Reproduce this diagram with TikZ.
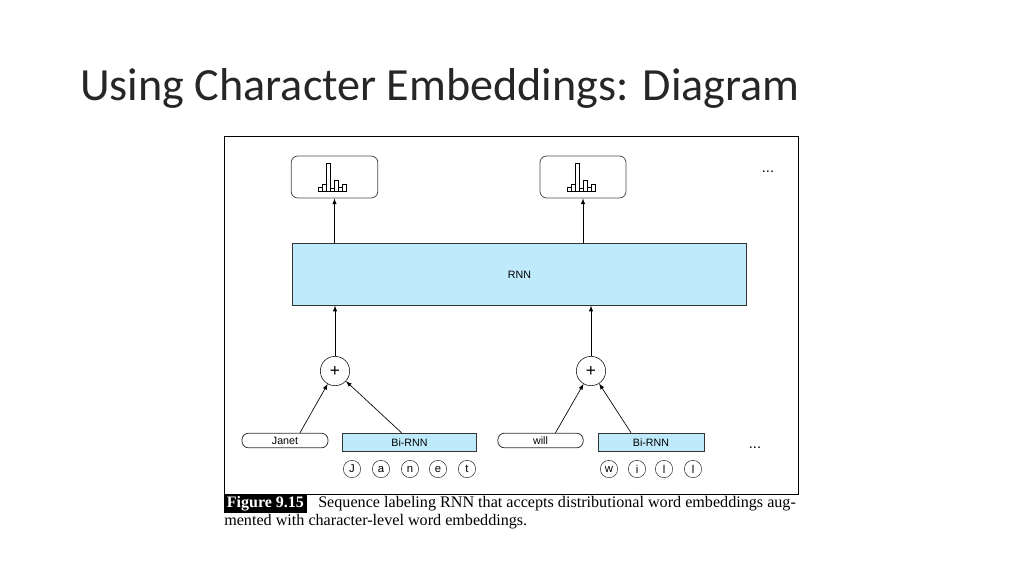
\documentclass[tikz,border=0pt]{standalone}
\usepackage{fontspec}
\setmainfont{Liberation Serif}
\newfontfamily\titlefont{Carlito}
\newfontfamily\helv{Liberation Sans}
\begin{document}
\begin{tikzpicture}[x=0.75pt,y=-0.75pt,
  outbox/.style={draw=black!70,rounded corners=5pt,line width=0.6pt},
  bluebox/.style={draw=black!80,fill=cyan!25!white,line width=0.6pt,font=\helv\fontsize{8}{9}\selectfont,inner sep=0},
  pill/.style={draw=black!80,rounded corners=5pt,line width=0.6pt,font=\helv\fontsize{8}{9}\selectfont,inner sep=0},
  chr/.style={draw=black!80,circle,minimum size=13pt,inner sep=0,font=\helv\fontsize{8.5}{9}\selectfont},
  plusc/.style={draw=black,circle,minimum size=22pt,inner sep=0,fill=white,font=\helv\fontsize{13}{13}\selectfont},
  dots/.style={font=\helv\fontsize{11}{11}\selectfont},
  arr/.style={-latex,line width=0.5pt}]
\useasboundingbox (0,0) rectangle (1024,576);
\node[anchor=base west,inner sep=0,font=\titlefont\fontsize{34.6}{40}\selectfont,text=black!85] (title) at (80,100) {Using Character Embeddings: Diagram};
\draw[line width=0.6pt] (224,136) rectangle (798,494);
% outputs
\node[outbox,minimum width=65pt,minimum height=31.5pt] (o1) at (334.5,177) {};
\node[outbox,minimum width=64.5pt,minimum height=31.5pt] (o2) at (583,177) {};
\foreach \c in {o1,o2}{
  \begin{scope}[shift={(\c)},line width=0.5pt]
    \draw (-16,14) rectangle (-12,10);
    \draw (-12,14) rectangle (-8,7);
    \draw (-8,14) rectangle (-4,-14);
    \draw (-4,14) rectangle (0,11);
    \draw (0,14) rectangle (4,3);
    \draw (4,14) rectangle (8,10);
    \draw (8,14) rectangle (12,7);
  \end{scope}}
\node[dots] (d1) at (768,172) {...};
% RNN
\node[bluebox,minimum width=341pt,minimum height=46pt] (rnn) at (519.5,274.5) {RNN};
\draw[arr] (rnn.north -| o1) -- (o1.south);
\draw[arr] (rnn.north -| o2) -- (o2.south);
% plus
\node[plusc] (p1) at (335,371) {+};
\node[plusc] (p2) at (591,371) {+};
\draw[arr] (p1) -- (rnn.south -| p1);
\draw[arr] (p2) -- (rnn.south -| p2);
% inputs
\node[pill,minimum width=64.5pt,minimum height=11pt] (janet) at (285,440.5) {Janet};
\node[bluebox,minimum width=101pt,minimum height=14pt] (bi1) at (409.5,442.5) {Bi-RNN};
\node[pill,minimum width=64pt,minimum height=11pt] (will) at (540.5,440.5) {will};
\node[bluebox,minimum width=79.5pt,minimum height=14pt] (bi2) at (651,442.5) {Bi-RNN};
\draw[arr] (janet.north) ++(15,0) coordinate (j1) -- (p1);
\draw[arr] (bi1.north) ++(-8,0) coordinate (b1) -- (p1);
\draw[arr] (will.north) ++(15,0) coordinate (w1) -- (p2);
\draw[arr] (bi2.north) ++(-20,0) coordinate (b2) -- (p2);
\foreach \t/\x [count=\i] in {J/352,a/381,n/410,e/438,t/467,w/609,i/637,l/664,l/693}
  \node[chr] (c\i) at (\x,469) {\t};
\node[dots] (d2) at (755,448) {...};
% caption
\node[fill=black,text=white,anchor=north west,inner xsep=2pt,inner ysep=1.5pt,font=\bfseries\fontsize{12}{13}\selectfont] (fig) at (224,494) {Figure 9.15};
\node[anchor=north west,inner sep=0,font=\fontsize{12.1}{14.5}\selectfont] (cap) at (318,496) {Sequence labeling RNN that accepts distributional word embeddings aug-};
\node[anchor=north west,inner sep=0,font=\fontsize{12.1}{14.5}\selectfont] (cap2) at (224,514) {mented with character-level word embeddings.};
\end{tikzpicture}
\end{document}
